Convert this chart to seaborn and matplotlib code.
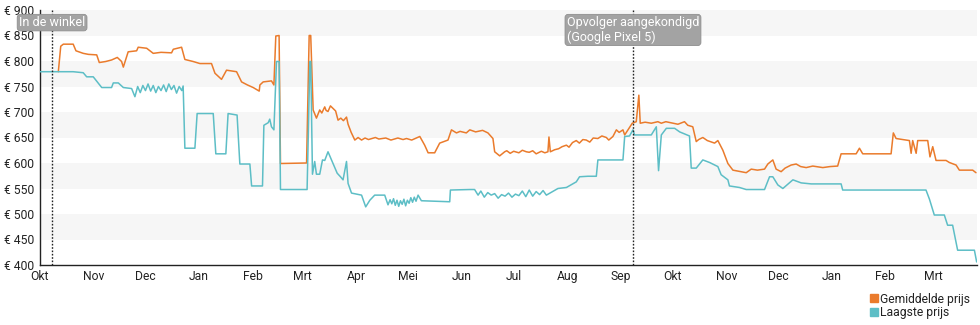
import matplotlib
matplotlib.use("Agg")
import matplotlib.pyplot as plt
import matplotlib.dates as mdates
from matplotlib.lines import Line2D
import pandas as pd
import seaborn as sns

# Price history, days counted from 1 October 2019
start = pd.Timestamp("2019-10-01")

avg_days = [10.6, 12.0, 13.5, 19.2, 20.8, 25.0, 28, 32.8, 34.3, 38, 41.4, 44.7, 47.2, 48.2, 51.0,
            55.9, 56.8, 61.7, 65.5, 70, 76.1, 77.1, 81.9, 83.8, 88.6, 92.5, 99.2, 101.2, 105.0,
            107.9, 113.7, 116.6, 120, 123.3, 126.8, 127.2, 129.1, 133.9, 135.3, 136.4, 138.3,
            139.1, 154.2, 155.7, 156.6, 158.0, 159.9, 161.8, 163, 164.7, 165.5, 166.6, 168,
            169.5, 171, 172.4, 174, 175.5, 177.3, 178.2, 180, 182.1, 184, 186, 188, 190, 194,
            196, 200, 203, 207, 210, 212.0, 215, 219.7, 222.5, 224.5, 228.3, 231.2, 236.0,
            238.0, 240.9, 243, 246.6, 248.6, 252, 256, 259.1, 262.0, 263.0, 265.9, 268.8, 270,
            272, 274, 277, 279, 281.3, 283, 285, 287, 290, 292, 293.8, 294.4, 295.2, 297.7, 300,
            302, 304.5, 306, 308, 310.2, 312, 314, 316.0, 318, 320, 322.7, 325, 327.6, 329,
            331.4, 333.4, 335, 337.2, 338.2, 340.1, 342.6, 344.9, 346.4, 347.2, 350, 353.6,
            357.4, 359.4, 362, 366.1, 369, 372.8, 374.7, 377.6, 379.6, 381, 383.4, 386, 390.2,
            392.1, 393, 395.0, 397.9, 400.8, 404, 408.5, 411.4, 415, 419.1, 421.0, 423.9, 425.8,
            428.7, 431, 434.5, 437.4, 440, 443.2, 447, 452.8, 457, 461.4, 463.4, 472.1, 474.0,
            475.9, 492.3, 493.6, 495.2, 502.9, 503.9, 504.8, 506.8, 507.7, 513.5, 514.8, 516.4,
            518.3, 524.1, 526.0, 529.9, 531.8, 539.5, 541.4]
avg_price = [779, 829, 833, 833, 820, 815, 813, 812, 797, 799, 802, 807, 799, 788, 818,
             820, 827, 825, 815, 817, 816, 823, 827, 803, 799, 795, 795, 776, 764,
             782, 779, 759, 753, 748, 741, 753, 759, 761, 753, 849, 850,
             599, 600, 850, 850, 704, 688, 704, 698, 710, 703, 701, 712,
             707, 702, 684, 688, 683, 690, 676, 660, 645, 650, 645, 649, 646, 650,
             647, 649, 645, 649, 646, 648, 645, 652, 635, 620, 620, 639, 645,
             665, 659, 662, 659, 665, 661, 664, 659, 648, 622, 614, 622, 624,
             619, 623, 620, 625, 622, 621, 624, 618, 623, 620, 622, 651, 622, 626, 628,
             632, 635, 631, 640, 644, 639, 646, 645, 641, 649, 648, 653, 650, 645,
             652, 665, 660, 665, 655, 665, 678, 681, 733, 678, 680, 678,
             681, 678, 681, 678, 676, 681, 674, 671, 642, 646, 650, 644, 639,
             644, 638, 625, 599, 586, 584, 581, 588, 586, 588, 598, 606, 588,
             583, 590, 596, 598, 593, 591, 594, 591, 593, 594, 618, 618, 629,
             618, 618, 659, 648, 644, 619, 644, 619, 644, 644, 612, 632,
             605, 605, 601, 596, 586, 586, 581]

low_days = [0, 19.2, 25.0, 27.0, 30.8, 35.7, 41.4, 42.4, 45.3, 48.2, 53.0, 54.9, 56.5, 58,
            59.5, 61, 62.5, 64, 65.5, 67, 68.5, 70, 71.5, 73, 74.5, 76, 77.5, 79, 80.5, 82, 82.8,
            83.8, 89.6, 90.9, 100.2, 101.7, 107.5, 108.8, 114.0, 115.6, 121.4, 122.4, 128.7,
            129.5, 132.0, 132.9, 133.9, 135.3, 136.8, 138.3, 139.1, 154.5, 156.1, 156.6, 157.6,
            158.9, 159.9, 161.8, 163.4, 164.7, 166.6, 169.5, 171.9, 173.8, 175.3, 177.3, 178.2,
            180.2, 186.0, 188.4, 190.8, 193.6, 199.4, 201.3, 202.5, 203.5, 204.5, 205.5, 206.5,
            207.5, 208.5, 209.5, 210.5, 211.5, 212.5, 213.5, 214.5, 215.5, 216.5, 217.5, 218.7,
            220.6, 237.0, 237.4, 248.6, 251.4, 253.4, 255, 257, 259, 261, 263, 265, 267, 269,
            271, 273, 275, 277, 279, 281, 283, 285, 287, 289, 291, 292.9, 299.6, 304.5, 310.2,
            312.1, 316.9, 321.8, 322.7, 337.2, 338.2, 341.0, 343.0, 343.9, 353.6, 356.5, 357.8,
            359.4, 362.3, 367.1, 370.0, 375.7, 376.7, 379.6, 383.4, 387.3, 392.1, 394.0, 397.9,
            398.8, 404.6, 408.5, 419.1, 422.0, 423.9, 426.8, 429.7, 435.5, 440.3, 446.1, 463.4,
            464.3, 512.5, 514.5, 517.3, 523.1, 525.0, 527.9, 530.8, 540.5, 541.8]
low_price = [779, 779, 777, 769, 769, 748, 748, 757, 757, 748, 746, 730, 750, 738,
             752, 742, 755, 741, 752, 738, 750, 742, 753, 740, 755, 744, 752, 737, 750, 742, 751,
             629, 629, 697, 697, 618, 618, 697, 694, 598, 598, 555, 555,
             674, 679, 686, 671, 665, 799, 799, 548, 548, 799, 799, 578,
             603, 578, 578, 606, 605, 622, 599, 580, 573, 567, 603, 560,
             541, 537, 514, 527, 537, 537, 518, 528, 520, 530, 517, 527,
             515, 526, 519, 529, 516, 527, 521, 532, 523, 533, 525, 537,
             526, 524, 547, 548, 548, 537, 545, 533, 542, 537, 540, 531, 538, 535,
             541, 533, 539, 536, 545, 534, 547, 535, 544, 538, 546, 537, 550, 552, 563,
             573, 574, 574, 606, 606, 652, 653, 665, 655, 655, 671, 585,
             655, 668, 668, 661, 653, 590, 590, 606, 601, 593, 577, 567,
             555, 552, 548, 548, 573, 573, 557, 550, 567, 561, 559, 559,
             547, 547, 529, 498, 498, 478, 478, 429, 429, 406]

series_names = ["Gemiddelde prijs", "Laagste prijs"]
series_colors = ["#ea7b2c", "#5dbec6"]
month_names = ["Jan", "Feb", "Mrt", "Apr", "Mei", "Jun", "Jul", "Aug", "Sep", "Okt", "Nov", "Dec"]
events = [("2019-10-08", "In de winkel"), ("2020-09-08", "Opvolger aangekondigd\n(Google Pixel 5)")]

df = pd.concat([
    pd.DataFrame({"datum": start + pd.to_timedelta(avg_days, unit="D"), "prijs": avg_price,
                  "serie": series_names[0]}),
    pd.DataFrame({"datum": start + pd.to_timedelta(low_days, unit="D"), "prijs": low_price,
                  "serie": series_names[1]}),
], ignore_index=True)

sns.set_theme(style="white")
plt.rcParams["font.family"] = ["Roboto", "DejaVu Sans"]

fig = plt.figure(figsize=(9.8, 3.25), dpi=100)
ax = fig.add_axes([40 / 980, 60 / 325, 937 / 980, 255 / 325])

# alternating horizontal bands
for lo in range(450, 900, 100):
    ax.axhspan(lo, lo + 50, color="#f6f6f6", lw=0, zorder=0)

sns.lineplot(data=df, x="datum", y="prijs", hue="serie", palette=dict(zip(series_names, series_colors)),
             estimator=None, sort=False, lw=1.1, legend=False, ax=ax, zorder=3)

ax.set_xlim(start, start + pd.Timedelta(days=542))
ax.set_ylim(400, 900)
ax.set_yticks(range(400, 901, 50))
ax.set_yticklabels([f"€ {v}" for v in range(400, 901, 50)])
ax.xaxis.set_major_locator(mdates.MonthLocator())
ax.xaxis.set_major_formatter(plt.FuncFormatter(lambda v, p: month_names[mdates.num2date(v).month - 1]))
ax.set_xlabel("")
ax.set_ylabel("")
ax.tick_params(axis="both", direction="inout", length=5, width=0.8, colors="#222222",
               labelsize=8.7, pad=1)
ax.tick_params(axis="y", pad=2)
for side in ["top", "right"]:
    ax.spines[side].set_visible(False)
for side in ["left", "bottom"]:
    ax.spines[side].set_color("#222222")
    ax.spines[side].set_linewidth(1.0)
ax.set_facecolor("white")

# event markers
for date, label in events:
    d = pd.Timestamp(date)
    ax.axvline(d, color="#222222", lw=1.0, ls=(0, (1.2, 1.2)), zorder=4)
    ax.text(d, 888, label, ha="center", va="top", multialignment="left", fontsize=9,
            color="white", linespacing=1.12, zorder=5,
            bbox=dict(boxstyle="round,pad=0.14,rounding_size=0.25", fc="#a3a3a3",
                      ec="#8f8f8f", lw=0.6))

handles = [Line2D([], [], marker="s", ls="", color=c, markersize=5.5) for c in series_colors]
fig.legend(handles, series_names, loc="upper right", bbox_to_anchor=(0.996, 0.118),
           frameon=False, fontsize=8.7, handlelength=0.6, handletextpad=0.2,
           labelspacing=0.05, borderpad=0, labelcolor="#222222")

fig.savefig("out.png", dpi=100)
